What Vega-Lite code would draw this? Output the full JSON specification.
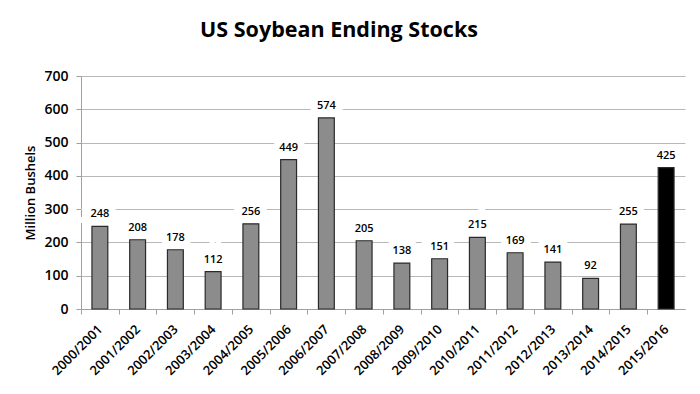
{
  "$schema": "https://vega.github.io/schema/vega-lite/v6.json",
  "width": 604,
  "height": 233,
  "autosize": {"type": "none"},
  "padding": {"left": 81, "top": 76, "right": 15, "bottom": 85},
  "background": "white",
  "title": {
    "text": "US Soybean Ending Stocks",
    "font": "Open Sans",
    "fontSize": 21.5,
    "fontWeight": "bold",
    "color": "#000000",
    "anchor": "middle",
    "dx": -44,
    "offset": 28
  },
  "data": {
    "values": [
      {"year": "2000/2001", "stocks": 248, "hl": "no"},
      {"year": "2001/2002", "stocks": 208, "hl": "no"},
      {"year": "2002/2003", "stocks": 178, "hl": "no"},
      {"year": "2003/2004", "stocks": 112, "hl": "no"},
      {"year": "2004/2005", "stocks": 256, "hl": "no"},
      {"year": "2005/2006", "stocks": 449, "hl": "no"},
      {"year": "2006/2007", "stocks": 574, "hl": "no"},
      {"year": "2007/2008", "stocks": 205, "hl": "no"},
      {"year": "2008/2009", "stocks": 138, "hl": "no"},
      {"year": "2009/2010", "stocks": 151, "hl": "no"},
      {"year": "2010/2011", "stocks": 215, "hl": "no"},
      {"year": "2011/2012", "stocks": 169, "hl": "no"},
      {"year": "2012/2013", "stocks": 141, "hl": "no"},
      {"year": "2013/2014", "stocks": 92, "hl": "no"},
      {"year": "2014/2015", "stocks": 255, "hl": "no"},
      {"year": "2015/2016", "stocks": 425, "hl": "yes"}
    ]
  },
  "config": {
    "view": {"stroke": null},
    "axis": {"labelFont": "Open Sans", "titleFont": "Open Sans", "labelColor": "#000000", "titleColor": "#000000"}
  },
  "encoding": {
    "x": {
      "field": "year",
      "type": "nominal",
      "sort": null,
      "scale": {"paddingInner": 0.58, "paddingOuter": 0.29},
      "axis": {
        "title": null,
        "labelAngle": -45,
        "labelAlign": "right",
        "labelBaseline": "middle",
        "labelFontSize": 13,
        "labelFontWeight": 600,
        "labelPadding": 13,
        "tickOffset": -18.9,
        "labelOffset": 18.9,
        "tickSize": 5,
        "tickColor": "#a0a0a0",
        "domainColor": "#a0a0a0",
        "grid": false
      }
    },
    "y": {
      "field": "stocks",
      "type": "quantitative",
      "scale": {"domain": [0, 700], "nice": false},
      "axis": {
        "title": "Million Bushels",
        "titleFontSize": 13,
        "titleFontWeight": 600,
        "titlePadding": 6,
        "values": [0, 100, 200, 300, 400, 500, 600, 700],
        "labelFontSize": 14,
        "labelFontWeight": 600,
        "labelPadding": 8,
        "tickSize": 5,
        "tickColor": "#a0a0a0",
        "domainColor": "#a0a0a0",
        "gridColor": "#b8b8b8",
        "gridWidth": 1
      }
    }
  },
  "layer": [
    {
      "mark": {"type": "bar", "stroke": "#2a2a2a", "strokeWidth": 1.2},
      "encoding": {
        "color": {
          "field": "hl",
          "type": "nominal",
          "scale": {"domain": ["no", "yes"], "range": ["#8c8c8c", "#000000"]},
          "legend": null
        }
      }
    },
    {
      "mark": {"type": "text", "baseline": "bottom", "dy": -7, "font": "Open Sans", "fontSize": 11, "fontWeight": 600, "stroke": "white", "strokeWidth": 14, "fill": "white"},
      "encoding": {"text": {"field": "stocks", "type": "quantitative"}}
    },
    {
      "mark": {"type": "text", "baseline": "bottom", "dy": -7, "font": "Open Sans", "fontSize": 11, "fontWeight": 600, "color": "#000000"},
      "encoding": {"text": {"field": "stocks", "type": "quantitative"}}
    }
  ]
}
